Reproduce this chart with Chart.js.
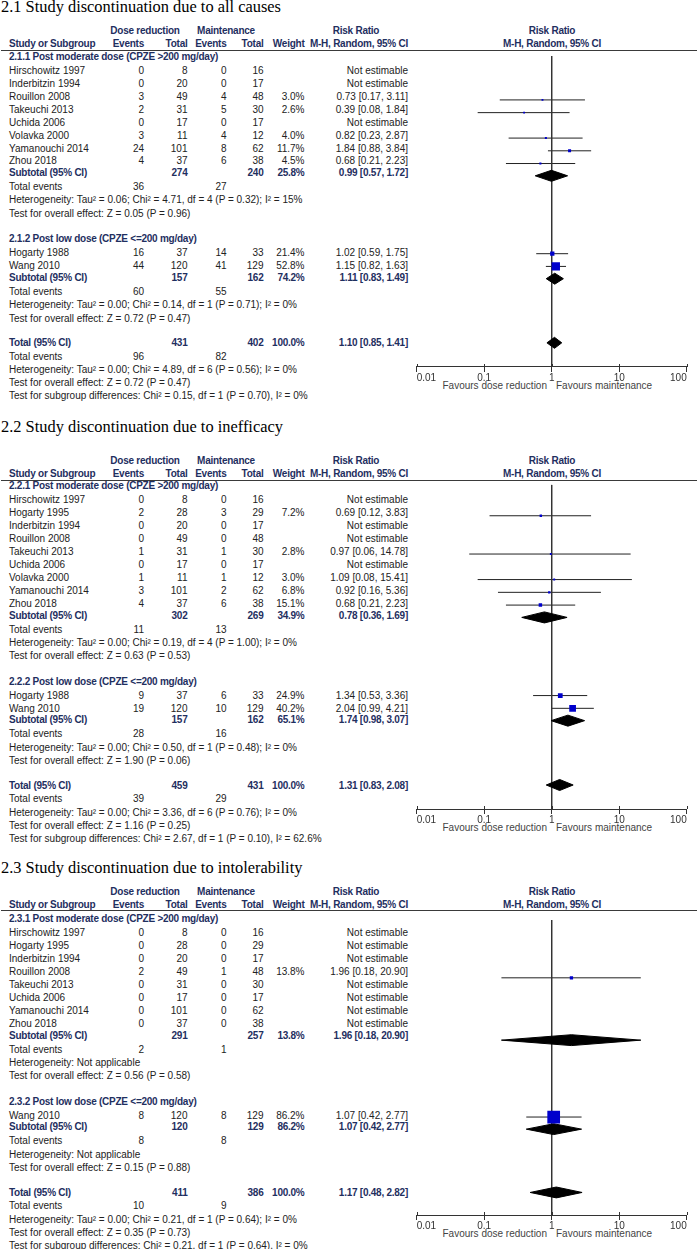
<!DOCTYPE html>
<html><head><meta charset="utf-8">
<script src="https://cdn.jsdelivr.net/npm/chart.js@4.4.1/dist/chart.umd.min.js"></script>
<style>
html,body{margin:0;padding:0;background:#fff;}
#page{position:relative;width:697px;height:1249px;overflow:hidden;font-family:"Liberation Sans",Arial,sans-serif;font-size:10px;color:#222;}
.t{position:absolute;white-space:nowrap;line-height:12px;height:12px;}
.b{font-weight:bold;color:#1f2f5f;letter-spacing:-0.25px;}
.fav{color:#444;}
.title{position:absolute;font-family:"Liberation Serif","Times New Roman",serif;font-size:16.4px;line-height:20px;color:#000;white-space:nowrap;}
canvas{position:absolute;}
.hl{position:absolute;height:0;border-top:1px solid #3a3a3a;}
</style></head><body><div id="page"></div>
<script>
// ---------- axis / header text ----------
const AXIS_TICKS = [0.01, 0.1, 1, 10, 100];
const AXIS_LABELS = ["0.01", "0.1", "1", "10", "100"];
const FAVOURS = ["Favours dose reduction", "Favours maintenance"];
const HEAD_1 = ["Dose reduction", "Maintenance", "Risk Ratio", "Risk Ratio"];
const HEAD_2 = ["Study or Subgroup", "Events", "Total", "Events", "Total", "Weight", "M-H, Random, 95% CI", "M-H, Random, 95% CI"];
const LBL_SUB = "Subtotal (95% CI)", LBL_TOT = "Total (95% CI)", LBL_EVT = "Total events", LBL_NE = "Not estimable";

// ---------- 2.1 all causes ----------
const TITLE_21 = "2.1 Study discontinuation due to all causes";
const GROUP_211 = "2.1.1 Post moderate dose (CPZE >200 mg/day)";
const STUDY_211 = ["Hirschowitz 1997","Inderbitzin 1994","Rouillon 2008","Takeuchi 2013","Uchida 2006","Volavka 2000","Yamanouchi 2014","Zhou 2018"];
const DR_EV_211 = [0,0,3,2,0,3,24,4];
const DR_N_211  = [8,20,49,31,17,11,101,37];
const MT_EV_211 = [0,0,4,5,0,4,8,6];
const MT_N_211  = [16,17,48,30,17,12,62,38];
const WT_211 = [null,null,3.0,2.6,null,4.0,11.7,4.5];
const RR_211 = [null,null,0.73,0.39,null,0.82,1.84,0.68];
const LO_211 = [null,null,0.17,0.08,null,0.23,0.88,0.21];
const HI_211 = [null,null,3.11,1.84,null,2.87,3.84,2.23];
const SUB_211 = [274,240,25.8,0.99,0.57,1.72];
const EVT_211 = [36,27];
const HET_211 = "Heterogeneity: Tau² = 0.06; Chi² = 4.71, df = 4 (P = 0.32); I² = 15%";
const Z_211 = "Test for overall effect: Z = 0.05 (P = 0.96)";

const GROUP_212 = "2.1.2 Post low dose (CPZE <=200 mg/day)";
const STUDY_212 = ["Hogarty 1988","Wang 2010"];
const DR_EV_212 = [16,44];
const DR_N_212  = [37,120];
const MT_EV_212 = [14,41];
const MT_N_212  = [33,129];
const WT_212 = [21.4,52.8];
const RR_212 = [1.02,1.15];
const LO_212 = [0.59,0.82];
const HI_212 = [1.75,1.63];
const SUB_212 = [157,162,74.2,1.11,0.83,1.49];
const EVT_212 = [60,55];
const HET_212 = "Heterogeneity: Tau² = 0.00; Chi² = 0.14, df = 1 (P = 0.71); I² = 0%";
const Z_212 = "Test for overall effect: Z = 0.72 (P = 0.47)";

const TOT_21 = [431,402,100.0,1.10,0.85,1.41];
const TOT_EVT_21 = [96,82];
const TOT_HET_21 = "Heterogeneity: Tau² = 0.00; Chi² = 4.89, df = 6 (P = 0.56); I² = 0%";
const TOT_Z_21 = "Test for overall effect: Z = 0.72 (P = 0.47)";
const SGD_21 = "Test for subgroup differences: Chi² = 0.15, df = 1 (P = 0.70), I² = 0%";

// ---------- 2.2 inefficacy ----------
const TITLE_22 = "2.2 Study discontinuation due to inefficacy";
const GROUP_221 = "2.2.1 Post moderate dose (CPZE >200 mg/day)";
const STUDY_221 = ["Hirschowitz 1997","Hogarty 1995","Inderbitzin 1994","Rouillon 2008","Takeuchi 2013","Uchida 2006","Volavka 2000","Yamanouchi 2014","Zhou 2018"];
const DR_EV_221 = [0,2,0,0,1,0,1,3,4];
const DR_N_221  = [8,28,20,49,31,17,11,101,37];
const MT_EV_221 = [0,3,0,0,1,0,1,2,6];
const MT_N_221  = [16,29,17,48,30,17,12,62,38];
const WT_221 = [null,7.2,null,null,2.8,null,3.0,6.8,15.1];
const RR_221 = [null,0.69,null,null,0.97,null,1.09,0.92,0.68];
const LO_221 = [null,0.12,null,null,0.06,null,0.08,0.16,0.21];
const HI_221 = [null,3.83,null,null,14.78,null,15.41,5.36,2.23];
const SUB_221 = [302,269,34.9,0.78,0.36,1.69];
const EVT_221 = [11,13];
const HET_221 = "Heterogeneity: Tau² = 0.00; Chi² = 0.19, df = 4 (P = 1.00); I² = 0%";
const Z_221 = "Test for overall effect: Z = 0.63 (P = 0.53)";

const GROUP_222 = "2.2.2 Post low dose (CPZE <=200 mg/day)";
const STUDY_222 = ["Hogarty 1988","Wang 2010"];
const DR_EV_222 = [9,19];
const DR_N_222  = [37,120];
const MT_EV_222 = [6,10];
const MT_N_222  = [33,129];
const WT_222 = [24.9,40.2];
const RR_222 = [1.34,2.04];
const LO_222 = [0.53,0.99];
const HI_222 = [3.36,4.21];
const SUB_222 = [157,162,65.1,1.74,0.98,3.07];
const EVT_222 = [28,16];
const HET_222 = "Heterogeneity: Tau² = 0.00; Chi² = 0.50, df = 1 (P = 0.48); I² = 0%";
const Z_222 = "Test for overall effect: Z = 1.90 (P = 0.06)";

const TOT_22 = [459,431,100.0,1.31,0.83,2.08];
const TOT_EVT_22 = [39,29];
const TOT_HET_22 = "Heterogeneity: Tau² = 0.00; Chi² = 3.36, df = 6 (P = 0.76); I² = 0%";
const TOT_Z_22 = "Test for overall effect: Z = 1.16 (P = 0.25)";
const SGD_22 = "Test for subgroup differences: Chi² = 2.67, df = 1 (P = 0.10), I² = 62.6%";

// ---------- 2.3 intolerability ----------
const TITLE_23 = "2.3 Study discontinuation due to intolerability";
const GROUP_231 = "2.3.1 Post moderate dose (CPZE >200 mg/day)";
const STUDY_231 = ["Hirschowitz 1997","Hogarty 1995","Inderbitzin 1994","Rouillon 2008","Takeuchi 2013","Uchida 2006","Yamanouchi 2014","Zhou 2018"];
const DR_EV_231 = [0,0,0,2,0,0,0,0];
const DR_N_231  = [8,28,20,49,31,17,101,37];
const MT_EV_231 = [0,0,0,1,0,0,0,0];
const MT_N_231  = [16,29,17,48,30,17,62,38];
const WT_231 = [null,null,null,13.8,null,null,null,null];
const RR_231 = [null,null,null,1.96,null,null,null,null];
const LO_231 = [null,null,null,0.18,null,null,null,null];
const HI_231 = [null,null,null,20.90,null,null,null,null];
const SUB_231 = [291,257,13.8,1.96,0.18,20.90];
const EVT_231 = [2,1];
const HET_231 = "Heterogeneity: Not applicable";
const Z_231 = "Test for overall effect: Z = 0.56 (P = 0.58)";

const GROUP_232 = "2.3.2 Post low dose (CPZE <=200 mg/day)";
const STUDY_232 = ["Wang 2010"];
const DR_EV_232 = [8];
const DR_N_232  = [120];
const MT_EV_232 = [8];
const MT_N_232  = [129];
const WT_232 = [86.2];
const RR_232 = [1.07];
const LO_232 = [0.42];
const HI_232 = [2.77];
const SUB_232 = [120,129,86.2,1.07,0.42,2.77];
const EVT_232 = [8,8];
const HET_232 = "Heterogeneity: Not applicable";
const Z_232 = "Test for overall effect: Z = 0.15 (P = 0.88)";

const TOT_23 = [411,386,100.0,1.17,0.48,2.82];
const TOT_EVT_23 = [10,9];
const TOT_HET_23 = "Heterogeneity: Tau² = 0.00; Chi² = 0.21, df = 1 (P = 0.64); I² = 0%";
const TOT_Z_23 = "Test for overall effect: Z = 0.35 (P = 0.73)";
const SGD_23 = "Test for subgroup differences: Chi² = 0.21, df = 1 (P = 0.64), I² = 0%";

// ---------- assembly ----------
function grp(label, study, drEv, drN, mtEv, mtN, wt, rr, lo, hi, sub, evt, het, z) {
  return {label, study, drEv, drN, mtEv, mtN, wt, rr, lo, hi, sub, evt, het, z};
}
const PANELS = [
  { title: TITLE_21,
    groups: [grp(GROUP_211, STUDY_211, DR_EV_211, DR_N_211, MT_EV_211, MT_N_211, WT_211, RR_211, LO_211, HI_211, SUB_211, EVT_211, HET_211, Z_211),
             grp(GROUP_212, STUDY_212, DR_EV_212, DR_N_212, MT_EV_212, MT_N_212, WT_212, RR_212, LO_212, HI_212, SUB_212, EVT_212, HET_212, Z_212)],
    total: TOT_21, totEvt: TOT_EVT_21, totHet: TOT_HET_21, totZ: TOT_Z_21, sgd: SGD_21 },
  { title: TITLE_22,
    groups: [grp(GROUP_221, STUDY_221, DR_EV_221, DR_N_221, MT_EV_221, MT_N_221, WT_221, RR_221, LO_221, HI_221, SUB_221, EVT_221, HET_221, Z_221),
             grp(GROUP_222, STUDY_222, DR_EV_222, DR_N_222, MT_EV_222, MT_N_222, WT_222, RR_222, LO_222, HI_222, SUB_222, EVT_222, HET_222, Z_222)],
    total: TOT_22, totEvt: TOT_EVT_22, totHet: TOT_HET_22, totZ: TOT_Z_22, sgd: SGD_22 },
  { title: TITLE_23,
    groups: [grp(GROUP_231, STUDY_231, DR_EV_231, DR_N_231, MT_EV_231, MT_N_231, WT_231, RR_231, LO_231, HI_231, SUB_231, EVT_231, HET_231, Z_231),
             grp(GROUP_232, STUDY_232, DR_EV_232, DR_N_232, MT_EV_232, MT_N_232, WT_232, RR_232, LO_232, HI_232, SUB_232, EVT_232, HET_232, Z_232)],
    total: TOT_23, totEvt: TOT_EVT_23, totHet: TOT_HET_23, totZ: TOT_Z_23, sgd: SGD_23 }
];

// ---------- layout (page pixels) ----------
const LAYOUT = [
  {titleBase: 12.2, lineY: 50, headY: 56.7, axisY: 366.7},
  {titleBase: 432.3, lineY: 480, headY: 486.3, axisY: 809},
  {titleBase: 873.3, lineY: 910.7, headY: 919.3, axisY: 1215}
];
const COL = {study: 9, e1: 144, t1: 187.5, e2: 226.5, t2: 263.5, w: 304.5, rr: 408, drHead: 145, mtHead: 226, rrHead: 356, plotHead: 552};
const SP = {row: 12.95, headToFirst: 14, lastToSub: 11.5, subToEvt: 14, evtToHet: 13.5, hetToZ: 13.3, zToHead: 25.5, zToTotal: 24.5, totToEvt: 13.5, zToSgd: 13};
const PLOT = {left: 400, width: 297, padL: 16.7, padR: 10.3, axisH: 30, studyOff: -1.8, diaOff: -0.8, diaHalf: 5.6};

const page = document.getElementById('page');
function txt(x, y, s, cls, align) {
  const d = document.createElement('div');
  d.className = 't ' + (cls || '');
  d.textContent = s;
  if (align === 'r') { d.style.left = (x - 300) + 'px'; d.style.width = '300px'; d.style.textAlign = 'right'; }
  else if (align === 'c') { d.style.left = (x - 150) + 'px'; d.style.width = '300px'; d.style.textAlign = 'center'; }
  else d.style.left = x + 'px';
  d.style.top = (y - 5.9) + 'px';
  page.appendChild(d);
}
const fmtCI = (r, l, h) => r.toFixed(2) + ' [' + l.toFixed(2) + ', ' + h.toFixed(2) + ']';
const sqSide = w => 1.5 + 0.13 * w;

const tickUp = {
  id: 'tickUp',
  afterDraw(chart) {
    const s = chart.scales.x, ctx = chart.ctx;
    ctx.save(); ctx.strokeStyle = '#333'; ctx.lineWidth = 1;
    s.ticks.forEach(t => {
      const x = Math.round(s.getPixelForValue(t.value)) + 0.5;
      ctx.beginPath(); ctx.moveTo(x, s.top - 3); ctx.lineTo(x, s.top); ctx.stroke();
    });
    ctx.restore();
  }
};

function drawPanel(P, L) {
  const t = document.createElement('div');
  t.className = 'title'; t.textContent = P.title;
  t.style.left = '1px'; t.style.top = (L.titleBase - 15.5) + 'px';
  page.appendChild(t);

  const h1 = L.lineY - 19.3, h2 = L.lineY - 6.3;
  txt(COL.drHead, h1, HEAD_1[0], 'b', 'c');
  txt(COL.mtHead, h1, HEAD_1[1], 'b', 'c');
  txt(COL.rrHead, h1, HEAD_1[2], 'b', 'c');
  txt(COL.plotHead, h1, HEAD_1[3], 'b', 'c');
  txt(COL.study, h2, HEAD_2[0], 'b');
  txt(COL.e1, h2, HEAD_2[1], 'b', 'r');
  txt(COL.t1, h2, HEAD_2[2], 'b', 'r');
  txt(COL.e2, h2, HEAD_2[3], 'b', 'r');
  txt(COL.t2, h2, HEAD_2[4], 'b', 'r');
  txt(COL.w, h2, HEAD_2[5], 'b', 'r');
  txt(COL.rr, h2, HEAD_2[6], 'b', 'r');
  txt(COL.plotHead, h2, HEAD_2[7], 'b', 'c');

  const hl = document.createElement('div');
  hl.className = 'hl'; hl.style.left = '1px'; hl.style.width = '696px'; hl.style.top = (L.lineY - 0.5) + 'px';
  page.appendChild(hl);

  const ci = [], sq = [], dia = [];
  let y = L.headY;
  function summary(label, s, yy) {
    txt(COL.study, yy, label, 'b');
    txt(COL.t1, yy, String(s[0]), 'b', 'r');
    txt(COL.t2, yy, String(s[1]), 'b', 'r');
    txt(COL.w, yy, s[2].toFixed(1) + '%', 'b', 'r');
    txt(COL.rr, yy, fmtCI(s[3], s[4], s[5]), 'b', 'r');
    dia.push({y: yy + PLOT.diaOff, rr: s[3], lo: s[4], hi: s[5]});
  }
  P.groups.forEach((g, gi) => {
    if (gi > 0) y += SP.zToHead;
    txt(COL.study, y, g.label, 'b');
    y += SP.headToFirst;
    g.study.forEach((s, i) => {
      if (i > 0) y += SP.row;
      txt(COL.study, y, s);
      txt(COL.e1, y, String(g.drEv[i]), '', 'r');
      txt(COL.t1, y, String(g.drN[i]), '', 'r');
      txt(COL.e2, y, String(g.mtEv[i]), '', 'r');
      txt(COL.t2, y, String(g.mtN[i]), '', 'r');
      if (g.rr[i] == null) {
        txt(COL.rr, y, LBL_NE, '', 'r');
      } else {
        txt(COL.w, y, g.wt[i].toFixed(1) + '%', '', 'r');
        txt(COL.rr, y, fmtCI(g.rr[i], g.lo[i], g.hi[i]), '', 'r');
        ci.push({y: y + PLOT.studyOff, lo: g.lo[i], hi: g.hi[i]});
        sq.push({y: y + PLOT.studyOff, rr: g.rr[i], w: g.wt[i]});
      }
    });
    y += SP.lastToSub;
    summary(LBL_SUB, g.sub, y);
    y += SP.subToEvt;
    txt(COL.study, y, LBL_EVT); txt(COL.e1, y, String(g.evt[0]), '', 'r'); txt(COL.e2, y, String(g.evt[1]), '', 'r');
    y += SP.evtToHet; txt(COL.study, y, g.het);
    y += SP.hetToZ; txt(COL.study, y, g.z);
  });
  y += SP.zToTotal;
  summary(LBL_TOT, P.total, y);
  y += SP.totToEvt;
  txt(COL.study, y, LBL_EVT); txt(COL.e1, y, String(P.totEvt[0]), '', 'r'); txt(COL.e2, y, String(P.totEvt[1]), '', 'r');
  y += SP.evtToHet; txt(COL.study, y, P.totHet);
  y += SP.hetToZ; txt(COL.study, y, P.totZ);
  y += SP.zToSgd; txt(COL.study, y, P.sgd);

  txt(547, L.axisY + 19.3, FAVOURS[0], 'fav', 'r');
  txt(556, L.axisY + 19.3, FAVOURS[1], 'fav');

  const cv = document.createElement('canvas');
  cv.width = PLOT.width; cv.height = Math.round(L.axisY - L.lineY + PLOT.axisH);
  cv.style.left = PLOT.left + 'px'; cv.style.top = L.lineY + 'px';
  page.appendChild(cv);

  const datasets = [];
  datasets.push({type: 'scatter', data: sq.map(s => ({x: s.rr, y: s.y})), pointStyle: 'rect',
    pointRadius: sq.map(s => sqSide(s.w) / Math.SQRT2), backgroundColor: '#0000cc', borderWidth: 0, showLine: false});
  dia.forEach(d => datasets.push({type: 'line',
    data: [{x: d.lo, y: d.y}, {x: d.rr, y: d.y - PLOT.diaHalf}, {x: d.hi, y: d.y}, {x: d.rr, y: d.y + PLOT.diaHalf}, {x: d.lo, y: d.y}],
    borderColor: '#000', backgroundColor: '#000', borderWidth: 1, pointRadius: 0, fill: 'shape', tension: 0}));
  datasets.push({type: 'line', data: [{x: 1, y: L.lineY}, {x: 1, y: L.axisY}], borderColor: '#333', borderWidth: 1, pointRadius: 0, fill: false});
  ci.forEach(c => datasets.push({type: 'line', data: [{x: c.lo, y: c.y}, {x: c.hi, y: c.y}], borderColor: '#222', borderWidth: 1, pointRadius: 0, fill: false}));

  new Chart(cv, {
    type: 'scatter',
    data: {datasets},
    plugins: [tickUp],
    options: {
      responsive: false, animation: false, events: [], devicePixelRatio: 1,
      layout: {padding: {left: PLOT.padL, right: PLOT.padR, top: 0, bottom: 0}},
      plugins: {legend: {display: false}, tooltip: {enabled: false}},
      scales: {
        x: {
          type: 'logarithmic', min: AXIS_TICKS[0], max: AXIS_TICKS[AXIS_TICKS.length - 1], bounds: 'data', position: 'bottom',
          afterBuildTicks: s => { s.ticks = AXIS_TICKS.map(v => ({value: v})); },
          afterFit: s => { s.height = PLOT.axisH; },
          ticks: {autoSkip: false, maxRotation: 0, align: 'inner', padding: 0, color: '#333',
                  font: {family: 'Liberation Sans', size: 10}, callback: (v, i) => AXIS_LABELS[i]},
          grid: {drawOnChartArea: false, drawTicks: true, tickLength: 5, color: '#333', lineWidth: 1},
          border: {display: true, color: '#333', width: 1}
        },
        y: {type: 'linear', display: false, min: L.lineY, max: L.axisY, reverse: true, bounds: 'data'}
      }
    }
  });
}
PANELS.forEach((P, i) => drawPanel(P, LAYOUT[i]));
</script>
</body></html>
